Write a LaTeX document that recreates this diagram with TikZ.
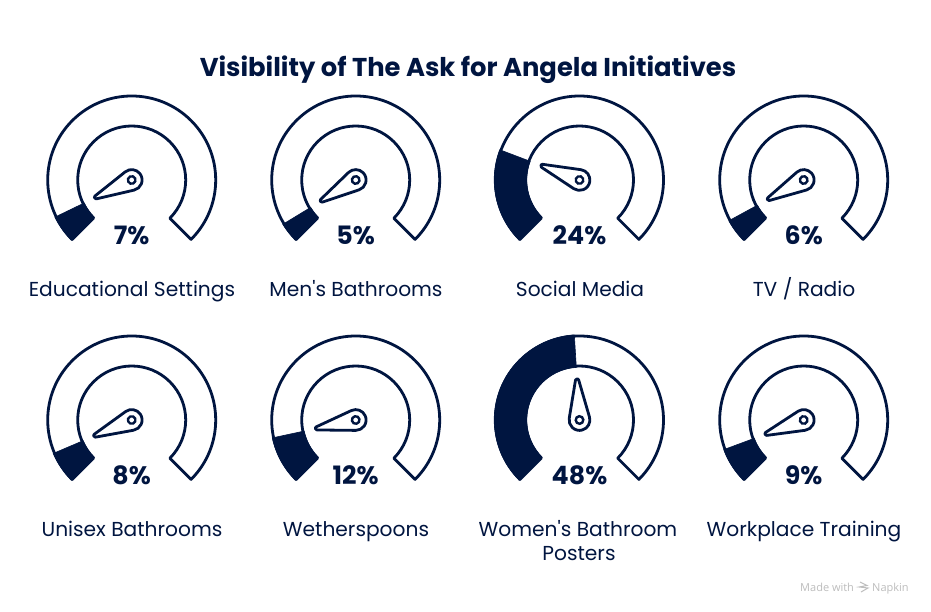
\documentclass[tikz,border=0pt]{standalone}
\usepackage{fontspec}
\setmainfont{Poppins}
\newfontfamily\wmfont{Open Sans}
\usetikzlibrary{calc}
\definecolor{navy}{HTML}{001540}
\definecolor{wm}{HTML}{BDBDBD}
\tikzset{
 x=1pt,y=1pt,
 ring/.style={draw=navy,line width=2.8pt,fill=white,line join=round},
 slice/.style={fill=navy,draw=navy,line width=0.6pt},
 pct/.style={anchor=base,text=navy,inner sep=0pt,font=\fontsize{25.3}{28}\selectfont\bfseries},
 lab/.style={anchor=base,text=navy,inner sep=0pt,align=center,font=\fontsize{20.2}{24}\selectfont},
 needle/.style={draw=navy,line width=2.8pt,line join=round,fill=white}
}
% #1 name, #2 cx, #3 cy (from the top), #4 value
\newcommand{\gaugedial}[4]{%
 \begin{scope}[shift={(#2,612-#3)}]
  \path[ring] (225:84) arc[start angle=225,end angle=-45,radius=84] -- (-45:54) arc[start angle=-45,end angle=225,radius=54] -- cycle;
  \pgfmathsetmacro{\endang}{225-2.74*#4}
  \path[slice] (225:85.3) arc[start angle=225,end angle=\endang,radius=85.3] -- (\endang:52.7) arc[start angle=\endang,end angle=225,radius=52.7] -- cycle;
  \begin{scope}[rotate=\endang]
   \path[needle] (77.6:10.4) -- ($(39.8,0)+(77.6:1.6)$) arc[start angle=77.6,end angle=-77.6,radius=1.6] -- (-77.6:10.4) arc[start angle=-77.6,end angle=-282.4,radius=10.4] -- cycle;
   \draw[navy,line width=2.4pt] (0,0) circle[radius=3.8];
  \end{scope}
  \node[pct] (#1p) at (0,-64.7) {#4\%};
 \end{scope}}
\begin{document}
\begin{tikzpicture}
\useasboundingbox (0,0) rectangle (931,612);
\fill[white] (0,0) rectangle (931,612);
\node[anchor=base,text=navy,inner sep=0pt,font=\fontsize{25.8}{30}\selectfont\bfseries] (title) at (468,612-77) {Visibility of The Ask for Angela Initiatives};
\gaugedial{a}{131.7}{180}{7}
\gaugedial{b}{355.7}{180}{5}
\gaugedial{c}{579.5}{180}{24}
\gaugedial{d}{803.7}{180}{6}
\gaugedial{e}{131.7}{420}{8}
\gaugedial{f}{355.7}{420}{12}
\gaugedial{g}{579.5}{420}{48}
\gaugedial{h}{803.7}{420}{9}
\node[lab] (la) at (132,612-297) {Educational Settings};
\node[lab] (lb) at (356,612-297) {Men\textquotesingle s Bathrooms};
\node[lab] (lc) at (580,612-297) {Social Media};
\node[lab] (ld) at (804,612-297) {TV / Radio};
\node[lab] (le) at (132,612-537) {Unisex Bathrooms};
\node[lab] (lf) at (356,612-537) {Wetherspoons};
\node[lab] (lg) at (578,612-537) {Women\textquotesingle s Bathroom};
\node[lab] (lgb) at (579,612-561) {Posters};
\node[lab] (lh) at (804,612-537) {Workplace Training};
\node[anchor=base west,text=wm,inner sep=0pt,font=\wmfont\fontsize{11}{13}\selectfont] (wa) at (800,612-592) {Made with};
\node[anchor=base west,text=wm,inner sep=0pt,font=\wmfont\fontsize{11}{13}\selectfont] (wb) at (872,612-592) {Napkin};
\draw[wm,line width=1pt] (860,612-582) -- (867,612-585.5) -- (859,612-587) -- (868,612-588) -- (861,612-592);
\end{tikzpicture}
\end{document}
